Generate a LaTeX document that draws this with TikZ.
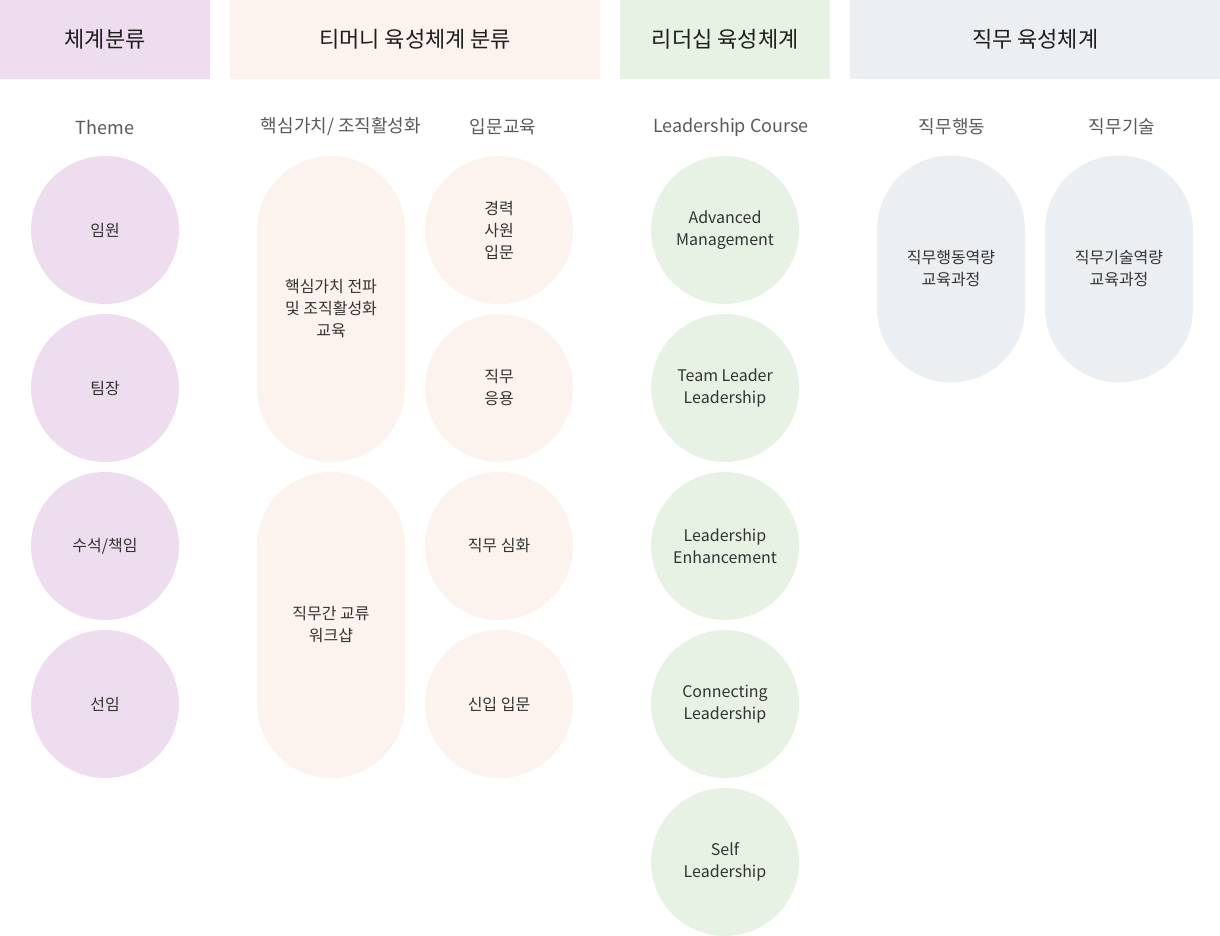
\documentclass[tikz,border=0pt]{standalone}
\usepackage{fontspec}
\setmainfont{Noto Sans CJK KR}
\usetikzlibrary{positioning}
\definecolor{themebg}{HTML}{EDDDEF}
\definecolor{tmbg}{HTML}{FCF2EE}
\definecolor{leadbg}{HTML}{E7F2E4}
\definecolor{jobbg}{HTML}{EBEFF2}
\begin{document}
\begin{tikzpicture}[x=1pt,y=-1pt,
  band/.style={anchor=north west, inner sep=0, minimum height=79pt, text=black!88, font=\fontsize{22}{26}\selectfont},
  subhead/.style={inner sep=0, text=black!65, font=\fontsize{18}{22}\selectfont},
  course/.style={circle, minimum size=148pt, inner sep=0, align=center, text=black!80, font=\fontsize{16}{22}\selectfont},
  pill/.style={rectangle, rounded corners=74pt, minimum width=148pt, inner sep=0, align=center, text=black!80, font=\fontsize{16}{22}\selectfont}]
\useasboundingbox (0,0) rectangle (1220,936);
% header bands
\node[band, fill=themebg, minimum width=210pt] (hdrTheme) at (0,0) {체계분류};
\node[band, fill=tmbg, minimum width=370pt] (hdrTm) at (230,0) {티머니 육성체계 분류};
\node[band, fill=leadbg, minimum width=210pt] (hdrLead) at (620,0) {리더십 육성체계};
\node[band, fill=jobbg, minimum width=370pt] (hdrJob) at (850,0) {직무 육성체계};
% column titles
\node[subhead] (subTheme) at (105,127) {Theme};
\node[subhead] (subCore) at (341,127) {핵심가치/ 조직활성화};
\node[subhead] (subIntro) at (503,127) {입문교육};
\node[subhead] (subLead) at (731,127) {Leadership Course};
\node[subhead] (subAct) at (952,127) {직무행동};
\node[subhead] (subSkill) at (1122,127) {직무기술};
% theme
\node[course, fill=themebg] (exec) at (105,230) {임원};
\node[course, fill=themebg] (teamlead) at (105,388) {팀장};
\node[course, fill=themebg] (senior) at (105,546) {수석/책임};
\node[course, fill=themebg] (junior) at (105,704) {선임};
% tmoney
\node[pill, fill=tmbg, minimum height=306pt] (coreVal) at (331,309) {핵심가치 전파\\및 조직활성화\\교육};
\node[pill, fill=tmbg, minimum height=306pt] (workshop) at (331,625) {직무간 교류\\워크샵};
\node[course, fill=tmbg] (career) at (499,230) {경력\\사원\\입문};
\node[course, fill=tmbg] (apply) at (499,388) {직무\\응용};
\node[course, fill=tmbg] (deep) at (499,546) {직무 심화};
\node[course, fill=tmbg] (newbie) at (499,704) {신입 입문};
% leadership
\node[course, fill=leadbg] (advMgmt) at (725,230) {Advanced\\Management};
\node[course, fill=leadbg] (teamLdr) at (725,388) {Team Leader\\Leadership};
\node[course, fill=leadbg] (ldrEnh) at (725,546) {Leadership\\Enhancement};
\node[course, fill=leadbg] (connLdr) at (725,704) {Connecting\\Leadership};
\node[course, fill=leadbg] (selfLdr) at (725,862) {Self\\Leadership};
% job
\node[pill, fill=jobbg, minimum height=227pt] (actCourse) at (951,269) {직무행동역량\\교육과정};
\node[pill, fill=jobbg, minimum height=227pt] (skillCourse) at (1119,269) {직무기술역량\\교육과정};
\end{tikzpicture}
\end{document}
